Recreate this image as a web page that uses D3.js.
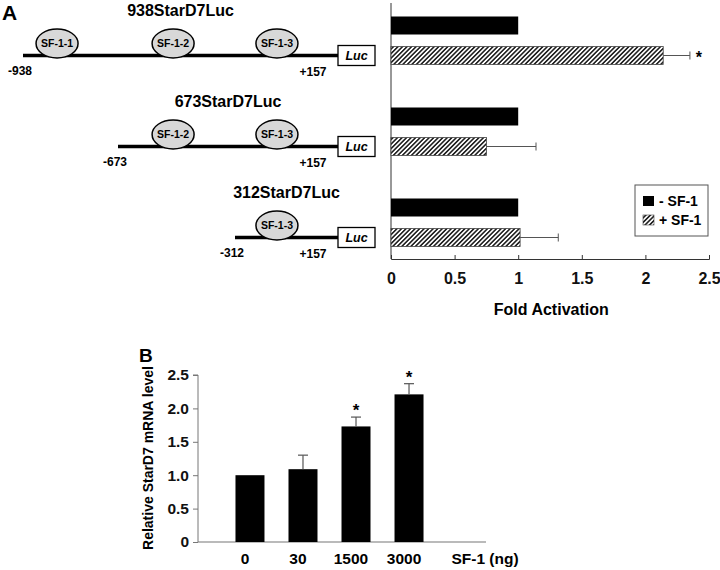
<!DOCTYPE html>
<html><head><meta charset="utf-8">
<script src="https://cdn.jsdelivr.net/npm/d3@7"></script>
<style>
html,body{margin:0;padding:0;background:#fff;}
svg{display:block;font-family:"Liberation Sans",Arial,sans-serif;font-weight:bold;}
</style></head>
<body>
<svg id="c" width="720" height="570"></svg>
<script>
// ---------- Data ----------
const constructs = ["938StarD7Luc", "673StarD7Luc", "312StarD7Luc"];
const constructStart = [-938, -673, -312];
const constructEnd = 157;
const siteNames = ["SF-1-1", "SF-1-2", "SF-1-3"];
const sitePositions = [-843, -503, -121];          // approximate bp positions
const constructSites = [["SF-1-1","SF-1-2","SF-1-3"], ["SF-1-2","SF-1-3"], ["SF-1-3"]];
const seriesA = ["- SF-1", "+ SF-1"];
const minusSF1 = [1.0, 1.0, 1.0];
const plusSF1 = [2.14, 0.75, 1.015];
const plusSF1Err = [0.21, 0.39, 0.30];
const plusSF1Sig = [true, false, false];
const foldTicks = [0, 0.5, 1, 1.5, 2, 2.5];

const doses = ["0", "30", "1500", "3000"];
const mrnaLevel = [1.0, 1.09, 1.73, 2.21];
const mrnaErr = [0, 0.21, 0.14, 0.16];
const mrnaSig = [false, false, true, true];
const mrnaTicks = [0, 0.5, 1.0, 1.5, 2.0, 2.5];

// ---------- Setup ----------
const svg = d3.select("#c");
const defs = svg.append("defs");
const pat = defs.append("pattern").attr("id","hatch").attr("patternUnits","userSpaceOnUse")
  .attr("width",3.2).attr("height",3.2).attr("patternTransform","rotate(45)");
pat.append("rect").attr("width",3.2).attr("height",3.2).attr("fill","#fff");
pat.append("rect").attr("width",1.6).attr("height",3.2).attr("fill","#222");

// ---------- Panel A bar chart ----------
const xA = d3.scaleLinear().domain([0, 2.5]).range([391, 709]);
const yA = d3.scaleBand().domain(constructs).range([-5, 268]);
const ySub = d3.scaleBand().domain(seriesA).range([0, 48]).paddingInner(0.4);
const groupTop = c => yA(c) + yA.bandwidth()/2 - 24;

const gA = svg.append("g");
gA.append("line").attr("x1", xA(0)).attr("x2", xA(0)).attr("y1", 3).attr("y2", 259)
  .attr("stroke","#333").attr("stroke-width",1);
const axA = d3.axisBottom(xA).tickValues(foldTicks).tickSize(-4).tickFormat(d3.format("~g"));
const axAg = gA.append("g").attr("transform","translate(0,259)").call(axA);
axAg.select(".domain").attr("stroke","#333");
axAg.selectAll(".tick line").attr("stroke","#333");
axAg.selectAll(".tick text").attr("dy",null).attr("y",24.5).attr("font-size",16)
  .attr("font-family","Liberation Sans, Arial, sans-serif").attr("font-weight","bold").attr("fill","#111");
gA.append("text").attr("x", xA(1.26)).attr("y", 315).attr("text-anchor","middle")
  .attr("font-size",16).text("Fold Activation");

constructs.forEach((c, i) => {
  const t = groupTop(c);
  gA.append("rect").attr("x", xA(0)).attr("y", t + ySub(seriesA[0]))
    .attr("width", xA(minusSF1[i]) - xA(0)).attr("height", ySub.bandwidth()).attr("fill","#000");
  gA.append("rect").attr("x", xA(0)).attr("y", t + ySub(seriesA[1]))
    .attr("width", xA(plusSF1[i]) - xA(0)).attr("height", ySub.bandwidth())
    .attr("fill","url(#hatch)").attr("stroke","#444").attr("stroke-width",0.8);
  const cy = t + ySub(seriesA[1]) + ySub.bandwidth()/2;
  gA.append("line").attr("x1", xA(plusSF1[i])).attr("x2", xA(plusSF1[i] + plusSF1Err[i]))
    .attr("y1", cy).attr("y2", cy).attr("stroke","#555").attr("stroke-width",1);
  gA.append("line").attr("x1", xA(plusSF1[i] + plusSF1Err[i])).attr("x2", xA(plusSF1[i] + plusSF1Err[i]))
    .attr("y1", cy-4).attr("y2", cy+4).attr("stroke","#555").attr("stroke-width",1);
  if (plusSF1Sig[i]) {
    gA.append("text").attr("x", xA(plusSF1[i] + plusSF1Err[i]) + 9).attr("y", cy + 7)
      .attr("text-anchor","middle").attr("font-size",16).text("*");
  }
});

// legend
const lg = gA.append("g");
lg.append("rect").attr("x",635).attr("y",185).attr("width",73).attr("height",51)
  .attr("fill","#fff").attr("stroke","#555").attr("stroke-width",1);
seriesA.forEach((s, i) => {
  lg.append("rect").attr("x",643).attr("y",196 + i*19).attr("width",11).attr("height",10)
    .attr("fill", i === 0 ? "#000" : "url(#hatch)").attr("stroke", i === 0 ? "none" : "#444").attr("stroke-width",0.6);
  lg.append("text").attr("x",659).attr("y",206 + i*19).attr("font-size",14).text(s);
});

// ---------- Panel A promoter diagrams ----------
const bp = d3.scaleLinear().domain([-938, -673, -312, 157]).range([23, 118, 235, 338]);
const gD = svg.append("g");
gD.append("text").attr("x", 2).attr("y", 20).attr("font-size", 21).text("A");
constructs.forEach((c, i) => {
  const t = groupTop(c);
  const ly = t + ySub(seriesA[1]) + ySub.bandwidth()/2;
  const x0 = bp(constructStart[i]), x1 = bp(constructEnd);
  gD.append("text").attr("x", (x0 + x1)/2).attr("y", ly - 40).attr("text-anchor","middle")
    .attr("font-size",16).text(c);
  gD.append("line").attr("x1", x0).attr("x2", x1).attr("y1", ly).attr("y2", ly)
    .attr("stroke","#000").attr("stroke-width",3.5);
  constructSites[i].forEach(s => {
    const sx = bp(sitePositions[siteNames.indexOf(s)]);
    gD.append("ellipse").attr("cx", sx).attr("cy", ly - 12).attr("rx", 21).attr("ry", 14.5)
      .attr("fill","#d8d8d8").attr("stroke","#000").attr("stroke-width",1.5);
    gD.append("text").attr("x", sx).attr("y", ly - 8.5).attr("text-anchor","middle")
      .attr("font-size",10.5).text(s);
  });
  gD.append("rect").attr("x", x1).attr("y", ly - 10).attr("width", 37).attr("height", 20)
    .attr("fill","#fff").attr("stroke","#000").attr("stroke-width",1.3);
  gD.append("text").attr("x", x1 + 18.5).attr("y", ly + 4.5).attr("text-anchor","middle")
    .attr("font-size",12.5).attr("font-style","italic").text("Luc");
  gD.append("text").attr("x", x0 - 3).attr("y", ly + 19).attr("text-anchor","middle")
    .attr("font-size",12).text(String(constructStart[i]));
  gD.append("text").attr("x", x1 - 25).attr("y", ly + 20).attr("text-anchor","middle")
    .attr("font-size",12).text("+" + constructEnd);
});

// ---------- Panel B ----------
const xB = d3.scaleBand().domain(doses).range([223.5, 435.5]).paddingInner(0.453).paddingOuter(0.226);
const yB = d3.scaleLinear().domain([0, 2.5]).range([542, 375]);
const gB = svg.append("g");
gB.append("text").attr("x", 139).attr("y", 362).attr("font-size", 19).text("B");
const axB = d3.axisLeft(yB).tickValues(mrnaTicks).tickSize(5).tickPadding(4)
  .tickFormat(d => d === 0 ? "0" : d3.format(".1f")(d));
const axBg = gB.append("g").attr("transform","translate(198,0)").call(axB);
axBg.select(".domain").attr("stroke","#777").attr("d", `M-5,${yB(2.5)}H0V${yB(0)}`);
axBg.selectAll(".tick line").attr("stroke","#777");
axBg.selectAll(".tick text").attr("font-size",15.5).attr("font-family","Liberation Sans, Arial, sans-serif")
  .attr("font-weight","bold").attr("fill","#111");
gB.append("line").attr("x1",198).attr("x2",486).attr("y1",yB(0)).attr("y2",yB(0))
  .attr("stroke","#777").attr("stroke-width",1.2);
gB.append("text").attr("transform",`translate(153,458) rotate(-90)`)
  .attr("text-anchor","middle").attr("font-size",14).text("Relative StarD7 mRNA level");

doses.forEach((d, i) => {
  const bx = xB(d), bw = xB.bandwidth(), cx = bx + bw/2;
  gB.append("rect").attr("x", bx).attr("y", yB(mrnaLevel[i])).attr("width", bw)
    .attr("height", yB(0) - yB(mrnaLevel[i])).attr("fill","#000");
  if (mrnaErr[i] > 0) {
    const top = yB(mrnaLevel[i] + mrnaErr[i]);
    gB.append("line").attr("x1", cx).attr("x2", cx).attr("y1", yB(mrnaLevel[i])).attr("y2", top)
      .attr("stroke","#555").attr("stroke-width",1.2);
    gB.append("line").attr("x1", cx - 5).attr("x2", cx + 5).attr("y1", top).attr("y2", top)
      .attr("stroke","#555").attr("stroke-width",1.2);
    if (mrnaSig[i]) {
      gB.append("text").attr("x", cx).attr("y", top - 1).attr("text-anchor","middle")
        .attr("font-size",17).text("*");
    }
  }
  gB.append("text").attr("x", cx - 5).attr("y", 564).attr("text-anchor","middle")
    .attr("font-size",15.5).text(d);
});
gB.append("text").attr("x", 485).attr("y", 564).attr("text-anchor","middle")
  .attr("font-size",15.5).text("SF-1 (ng)");
</script>
</body></html>
